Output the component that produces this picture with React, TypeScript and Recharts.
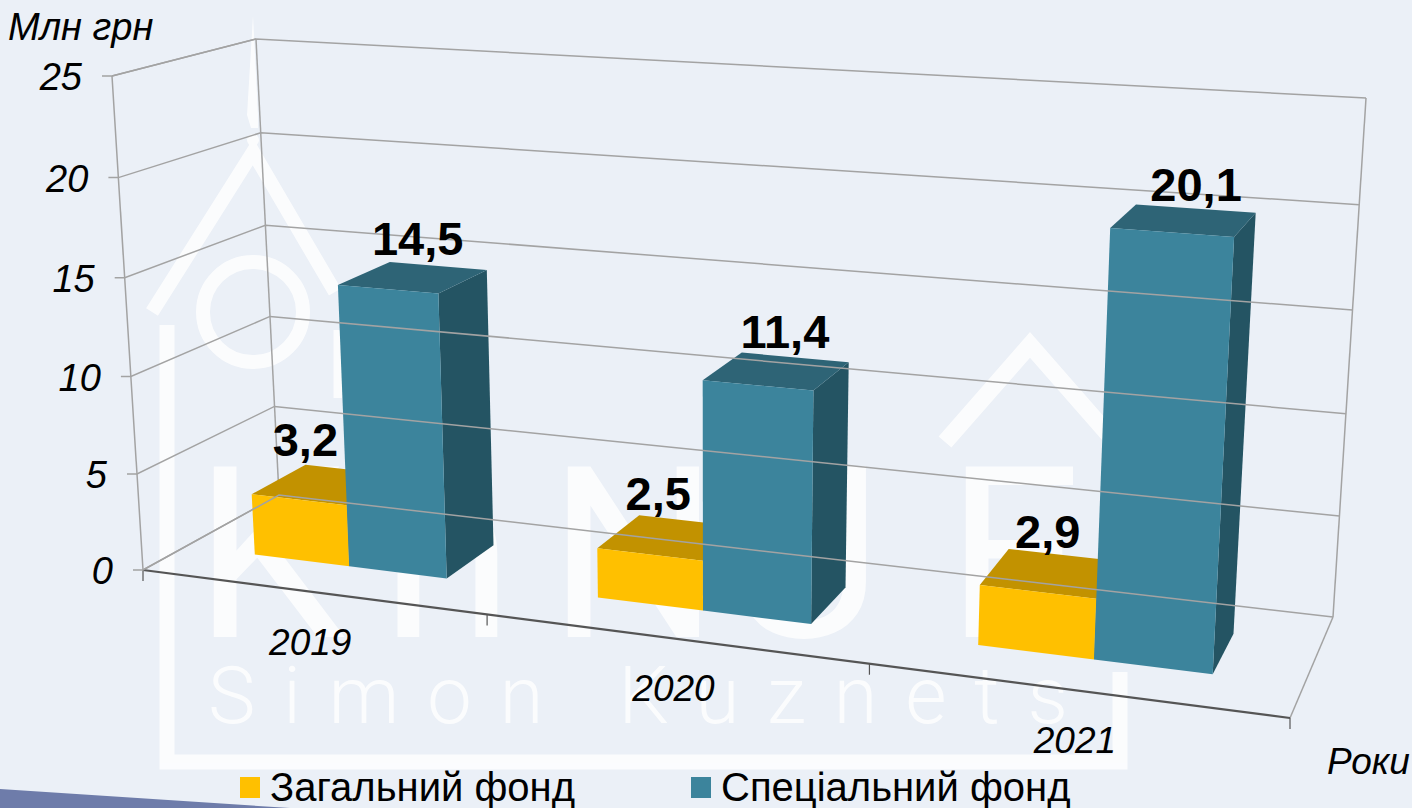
import React from 'react';
import { BarChart, Bar, XAxis, YAxis, Legend, LabelList, Customized } from 'recharts';

const years = ['2019', '2020', '2021'];
const generalFund = [3.2, 2.5, 2.9];
const specialFund = [14.5, 11.4, 20.1];
const valueTicks = [0, 5, 10, 15, 20, 25];

const chartData = years.map((year, i) => ({
  year,
  general: generalFund[i],
  special: specialFund[i],
}));

const WIDTH = 1412;
const HEIGHT = 808;
// flat plot area that recharts lays out, gets projected onto the 3D box below
const AXIS_W = 60;
const AXIS_H = 60;
const PLOT_W = WIDTH - AXIS_W;
const PLOT_H = HEIGHT - AXIS_H;

// box corners on screen: F/B front/back, B/T bottom/top, L/R left/right
const FBL = [143, 570];
const FBR = [1290, 718];
const BBL = [279, 495];
const BBR = [1333, 617];
const FTL = [112, 76];
const FTR = [1321, 148];
const BTL = [256, 39];
const BTR = [1366, 98];

const BAR_FRONT = 0.32;
const BAR_BACK = 0.73;

const mix = (a: number[], b: number[], k: number) => [a[0] + (b[0] - a[0]) * k, a[1] + (b[1] - a[1]) * k];

// t: 0..1 along categories, v: 0..1 up the value axis, w: 0..1 into the depth
const project = (t: number, v: number, w: number) => {
  const u = t - 0.15 * t * (1 - t);
  const h = v - 0.035 * v * (1 - v);
  const bottom = mix(mix(FBL, FBR, u), mix(BBL, BBR, u), w);
  const top = mix(mix(FTL, FTR, u), mix(BTL, BTR, u), w);
  return mix(bottom, top, h);
};

const toPoints = (pts: number[][]) => pts.map((p) => `${p[0].toFixed(1)},${p[1].toFixed(1)}`).join(' ');
const FONT = '"Liberation Sans", Arial, sans-serif';
const GRID = '#a3a3a3';

const Box3D = ({ x, width, height, fill, topFill, sideFill }: any) => {
  const t0 = (x - AXIS_W) / PLOT_W;
  const t1 = (x + width - AXIS_W) / PLOT_W;
  const v = Math.abs(height) / PLOT_H;
  const front = [project(t0, 0, BAR_FRONT), project(t1, 0, BAR_FRONT), project(t1, v, BAR_FRONT), project(t0, v, BAR_FRONT)];
  const top = [project(t0, v, BAR_FRONT), project(t1, v, BAR_FRONT), project(t1, v, BAR_BACK), project(t0, v, BAR_BACK)];
  const side = [project(t1, 0, BAR_FRONT), project(t1, 0, BAR_BACK), project(t1, v, BAR_BACK), project(t1, v, BAR_FRONT)];
  return (
    <g>
      <polygon points={toPoints(side)} fill={sideFill} />
      <polygon points={toPoints(top)} fill={topFill} />
      <polygon points={toPoints(front)} fill={fill} />
    </g>
  );
};

// labels drift a little to the right and down towards the near end of the box
const BarValue = ({ x, width, height, value, dx, leanX, dy, leanY }: any) => {
  const t = (x + width / 2 - AXIS_W) / PLOT_W;
  const v = Math.abs(height) / PLOT_H;
  const mid = project(t, v, 0.5);
  const back = project(t, v, BAR_BACK);
  return (
    <text
      x={mid[0] + dx + leanX * t}
      y={back[1] - 12 + dy + leanY * t}
      textAnchor="middle"
      fontFamily={FONT}
      fontWeight="bold"
      fontSize={47}
      fill="#000"
    >
      {String(value).replace('.', ',')}
    </text>
  );
};

const ValueTick = ({ payload }: any) => {
  const v = payload.value / valueTicks[valueTicks.length - 1];
  const a = project(0, v, 0);
  const b = project(0, v, 1);
  const c = project(1, v, 1);
  return (
    <g>
      <polyline points={toPoints([[a[0] - 10, a[1]], a, b, c])} fill="none" stroke={GRID} strokeWidth={1.5} />
      <text x={a[0] - 30} y={a[1] + 14} textAnchor="end" fontFamily={FONT} fontStyle="italic" fontSize={38} fill="#000">
        {payload.value}
      </text>
    </g>
  );
};

const YearTick = ({ x, payload }: any) => {
  const p = project((x - AXIS_W) / PLOT_W, 0, 0);
  return (
    <text x={p[0]} y={p[1] + 63} textAnchor="middle" fontFamily={FONT} fontStyle="italic" fontSize={37} fill="#000">
      {payload.value}
    </text>
  );
};

// box edges that don't depend on the values, plus the floor tick marks
const Frame = () => {
  const floorTicks = [0, 1 / 3, 2 / 3, 1].map((t) => project(t, 0, 0));
  const edges = [
    [project(0, 0, 0), project(0, 1, 0)],
    [project(0, 0, 1), project(0, 1, 1)],
    [project(1, 0, 1), project(1, 1, 1)],
    [project(0, 1, 0), project(0, 1, 1)],
    [project(0, 0, 0), project(0, 0, 1)],
    [project(1, 0, 0), project(1, 0, 1)],
  ];
  return (
    <g>
      {edges.map((e, i) => (
        <line key={i} x1={e[0][0]} y1={e[0][1]} x2={e[1][0]} y2={e[1][1]} stroke={GRID} strokeWidth={1.5} />
      ))}
      <line x1={FBL[0]} y1={FBL[1]} x2={FBR[0]} y2={FBR[1]} stroke="#555" strokeWidth={2.2} />
      {floorTicks.map((p, i) => (
        <line key={i} x1={p[0]} y1={p[1]} x2={p[0]} y2={p[1] + 11} stroke="#555" strokeWidth={1.2} />
      ))}
    </g>
  );
};

const FundLegend = ({ payload }: any) => {
  const lefts = [240, 691];
  return (
    <div style={{ position: 'relative', height: 0, fontFamily: FONT, fontSize: 40, color: '#000' }}>
      {(payload || []).map((item: any, i: number) => (
        <div key={item.value} style={{ position: 'absolute', left: lefts[i], top: 764, whiteSpace: 'nowrap', lineHeight: '46px' }}>
          <span style={{ display: 'inline-block', width: 20, height: 21, marginRight: 10, background: item.color, verticalAlign: 3 }} />
          {item.value}
        </div>
      ))}
    </div>
  );
};

const Watermark = () => (
  <svg width={WIDTH} height={HEIGHT} style={{ position: 'absolute', left: 0, top: 0 }}>
    <g opacity={0.8}>
      <g fill="none" stroke="#fff" strokeWidth={15}>
        <polyline points="167,325 167,762 1120,762 1120,672" />
        <polyline points="152,312 253,152 335,292" strokeWidth={14} />
        <line x1={338} y1={330} x2={338} y2={398} strokeWidth={9} />
        <circle cx={253} cy={312} r={50} strokeWidth={14} />
        <polyline points="945,442 1030,345 1115,442" strokeWidth={17} />
      </g>
      <polygon points="253,15 247,115 251,128 258,128 258,115" fill="#fff" />
      <circle cx={253} cy={140} r={6} fill="#fff" />
      <text x="194 381 548 726 946" y={637} fontFamily="Roboto" fontWeight={400} fontSize={240} fill="#fff">
        KhNUE
      </text>
      <text x={208} y={723} textLength={860} fontFamily="Roboto" fontWeight={300} fontSize={80} fill="#fff">
        Simon Kuznets
      </text>
    </g>
    <polygon points="0,789 290,808 0,808" fill="#6e7caa" />
  </svg>
);

export default function App() {
  return (
    <div style={{ position: 'absolute', left: 0, top: 0, width: WIDTH, height: HEIGHT, background: '#ebf0f7', overflow: 'hidden' }}>
      <Watermark />
      <div style={{ position: 'absolute', left: 8, top: 5, fontFamily: FONT, fontStyle: 'italic', fontSize: 38, lineHeight: '44px' }}>Млн грн</div>
      <div style={{ position: 'absolute', left: 1327, top: 740, fontFamily: FONT, fontStyle: 'italic', fontSize: 37, lineHeight: '44px' }}>Роки</div>
      <div style={{ position: 'absolute', left: 0, top: 0 }}>
        <BarChart
          width={WIDTH}
          height={HEIGHT}
          data={chartData}
          margin={{ top: 0, right: 0, bottom: 0, left: 0 }}
          barCategoryGap="21.3%"
          barGap={0}
        >
          <Customized component={Frame} />
          <XAxis dataKey="year" height={AXIS_H} axisLine={false} tickLine={false} tick={YearTick} />
          <YAxis width={AXIS_W} domain={[0, 25]} ticks={valueTicks} axisLine={false} tickLine={false} tick={ValueTick} />
          <Legend verticalAlign="top" height={0} content={FundLegend} wrapperStyle={{ left: 0, top: 0, width: WIDTH, height: 0 }} />
          <Bar
            dataKey="general"
            name="Загальний фонд"
            fill="#ffc000"
            isAnimationActive={false}
            shape={(p: any) => <Box3D {...p} topFill="#c29200" sideFill="#a87e00" />}
          >
            <LabelList dataKey="general" content={(p: any) => <BarValue {...p} dx={-19} leanX={22} dy={-3} leanY={10} />} />
          </Bar>
          <Bar
            dataKey="special"
            name="Спеціальний фонд"
            fill="#3c849c"
            isAnimationActive={false}
            shape={(p: any) => <Box3D {...p} topFill="#2e6476" sideFill="#245463" />}
          >
            <LabelList dataKey="special" content={(p: any) => <BarValue {...p} dx={6} leanX={9} dy={0} leanY={5} />} />
          </Bar>
        </BarChart>
      </div>
    </div>
  );
}
